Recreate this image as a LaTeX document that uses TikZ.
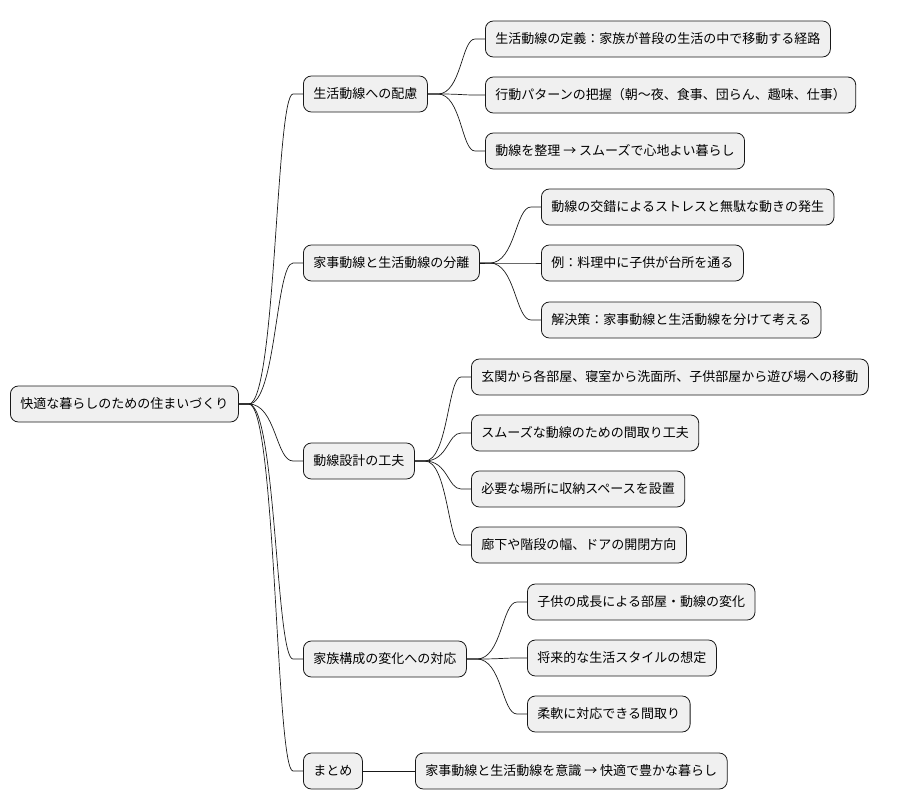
\documentclass[tikz,border=0pt]{standalone}
\usepackage{fontspec}
\setmainfont{Noto Sans CJK JP}
\usetikzlibrary{calc}
\begin{document}
\begin{tikzpicture}[x=1pt,y=-1pt,
  box/.style={draw=black!90,fill=black!6,rounded corners=8pt,line width=0.8pt,
    minimum height=36pt,inner xsep=10pt,anchor=west,font=\fontsize{13}{15}\selectfont},
  edge/.style={draw=black!90,line width=0.7pt}]
\useasboundingbox (0,0) rectangle (908,809);
\node[box] (r) at (10,404) {快適な暮らしのための住まいづくり};
\node[box] (a) at (303,94) {生活動線への配慮};
\node[box] (b) at (303,263) {家事動線と生活動線の分離};
\node[box] (c) at (303,461) {動線設計の工夫};
\node[box] (d) at (303,659) {家族構成の変化への対応};
\node[box] (e) at (303,771) {まとめ};
\node[box] (a1) at (485,39) {生活動線の定義：家族が普段の生活の中で移動する経路};
\node[box] (a2) at (485,95) {行動パターンの把握（朝〜夜、食事、団らん、趣味、仕事）};
\node[box] (a3) at (485,151) {動線を整理 → スムーズで心地よい暮らし};
\node[box] (b1) at (541,207) {動線の交錯によるストレスと無駄な動きの発生};
\node[box] (b2) at (541,263) {例：料理中に子供が台所を通る};
\node[box] (b3) at (541,320) {解決策：家事動線と生活動線を分けて考える};
\node[box] (c1) at (471,377) {玄関から各部屋、寝室から洗面所、子供部屋から遊び場への移動};
\node[box] (c2) at (471,433) {スムーズな動線のための間取り工夫};
\node[box] (c3) at (471,489) {必要な場所に収納スペースを設置};
\node[box] (c4) at (471,545) {廊下や階段の幅、ドアの開閉方向};
\node[box] (d1) at (527,602) {子供の成長による部屋・動線の変化};
\node[box] (d2) at (527,658) {将来的な生活スタイルの想定};
\node[box] (d3) at (527,714) {柔軟に対応できる間取り};
\node[box] (e1) at (415,771) {家事動線と生活動線を意識 → 快適で豊かな暮らし};
\foreach \p/\c in {r/a,r/b,r/c,r/d,r/e,a/a1,a/a2,a/a3,b/b1,b/b2,b/b3,c/c1,c/c2,c/c3,c/c4,d/d1,d/d2,d/d3,e/e1}{
  \path (\p.east) coordinate (P) (\c.west) coordinate (C);
  \draw[edge] let \p1=(P), \p2=(C) in
    (P) -- ++(10,0) .. controls (\x1/2+\x2/2+5,\y1) and (\x1/2+\x2/2+5,\y2) .. (\x2-10,\y2) -- (C);
}
\end{tikzpicture}
\end{document}
